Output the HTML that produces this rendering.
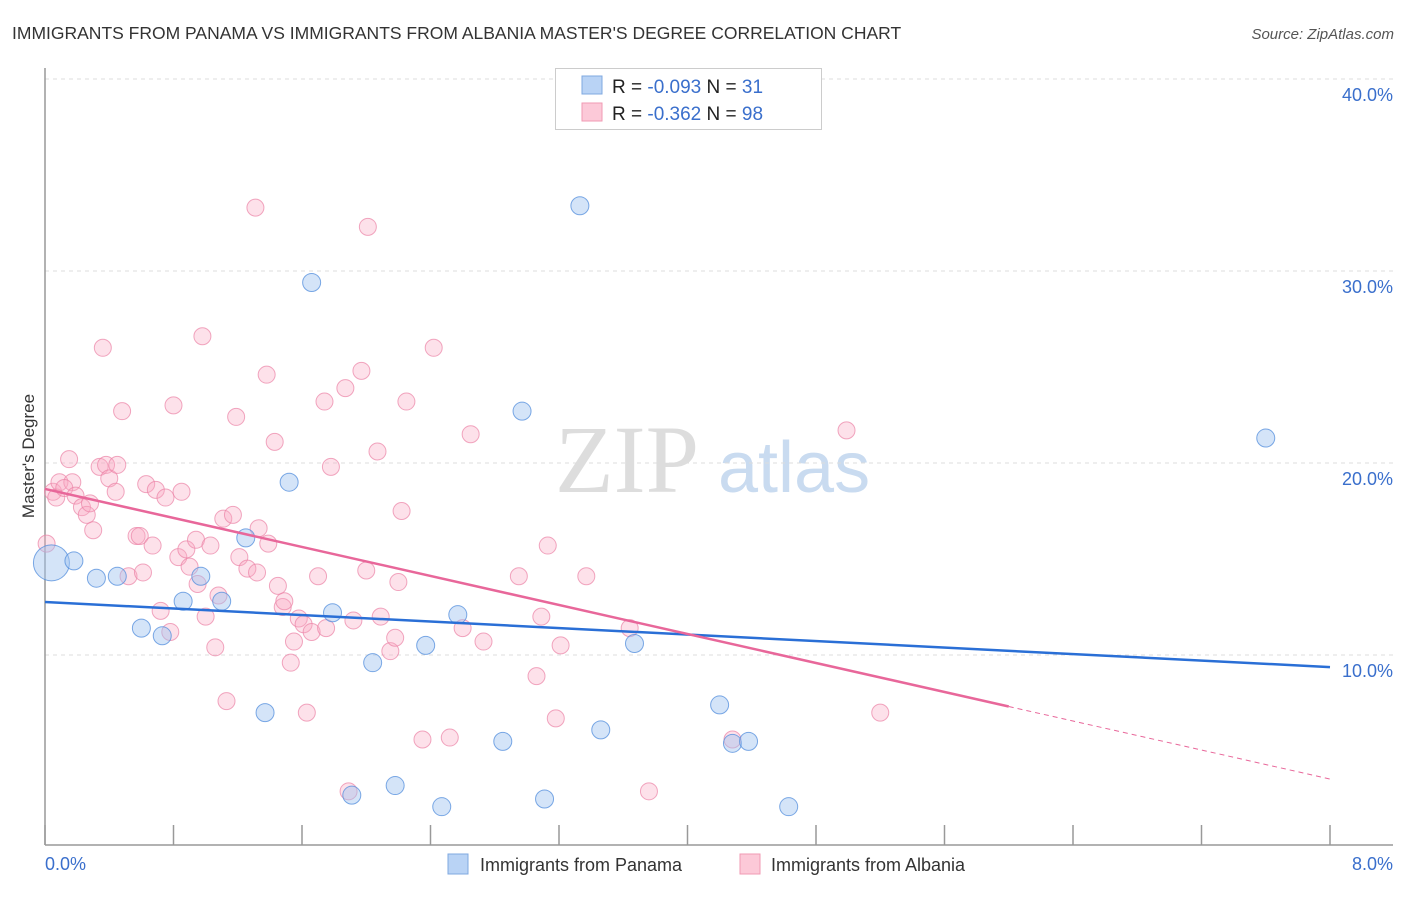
<!DOCTYPE html>
<html><head><meta charset="utf-8"><style>
body{margin:0;background:#fff;font-family:"Liberation Sans",sans-serif}
</style></head><body>
<svg width="1406" height="892" xmlns="http://www.w3.org/2000/svg">
<text x="12" y="39" font-size="17.5" fill="#333">IMMIGRANTS FROM PANAMA VS IMMIGRANTS FROM ALBANIA MASTER'S DEGREE CORRELATION CHART</text>
<text x="1394" y="39" font-size="15" fill="#555" text-anchor="end" font-style="italic">Source: ZipAtlas.com</text>
<text x="555" y="492" font-size="96" fill="#ddd" font-family="Liberation Serif,serif">ZIP</text>
<text x="718" y="492" font-size="72" fill="#c9dbf0">atlas</text>
<g id="grid"></g><g id="axes"></g><g id="pts"></g><g id="lines"></g>
<text transform="translate(34,456) rotate(-90)" font-size="17" fill="#333" text-anchor="middle">Master's Degree</text>
<text x="45" y="870" font-size="18" fill="#3a6fcc">0.0%</text>
<text x="1393" y="870" font-size="18" fill="#3a6fcc" text-anchor="end">8.0%</text>
<g>
<rect x="555.5" y="68.5" width="266" height="61" fill="#fff" stroke="#ccc"/>
<rect x="582" y="76" width="20" height="18" fill="#b9d3f5" stroke="#7fa8e0"/>
<rect x="582" y="103" width="20" height="18" fill="#fcc9d8" stroke="#f09ab3"/>
<text x="612" y="93" font-size="19" fill="#222">R = <tspan fill="#3a6fcc">-0.093</tspan>   N = <tspan fill="#3a6fcc"> 31</tspan></text>
<text x="612" y="120" font-size="19" fill="#222">R = <tspan fill="#3a6fcc"> -0.362</tspan>   N = <tspan fill="#3a6fcc">98</tspan></text>
</g>
<g>
<rect x="448" y="854" width="20" height="20" fill="#b9d3f5" stroke="#7fa8e0"/>
<text x="480" y="871" font-size="18" fill="#333">Immigrants from Panama</text>
<rect x="740" y="854" width="20" height="20" fill="#fcc9d8" stroke="#f09ab3"/>
<text x="771" y="871" font-size="18" fill="#333">Immigrants from Albania</text>
</g>
</svg>
<script>
const yTicks=[10,20,30,40];
const yTickLabels=["10.0%","20.0%","30.0%","40.0%"];
const xTicks=[0,0.8,1.6,2.4,3.2,4,4.8,5.6,6.4,7.2,8];
const panamaX=[0.04,0.18,0.32,0.45,0.60,0.73,0.86,0.97,1.10,1.25,1.37,1.52,1.66,1.79,1.91,2.04,2.18,2.37,2.47,2.57,2.85,2.97,3.11,3.33,3.46,3.67,4.20,4.28,4.38,4.63,7.60];
const panamaY=[14.8,14.9,14.0,14.1,11.4,11.0,12.8,14.1,12.8,16.1,7.0,19.0,29.4,12.2,2.7,9.6,3.2,10.5,2.1,12.1,5.5,22.7,2.5,33.4,6.1,10.6,7.4,5.4,5.5,2.1,21.3];
const albaniaX=[0.01,0.05,0.07,0.09,0.15,0.17,0.12,0.19,0.23,0.26,0.28,0.30,0.34,0.38,0.40,0.44,0.45,0.36,0.48,0.52,0.57,0.59,0.61,0.63,0.67,0.69,0.72,0.75,0.78,0.80,0.83,0.85,0.88,0.90,0.94,0.95,0.98,1.00,1.03,1.06,1.08,1.11,1.13,1.17,1.19,1.21,1.26,1.31,1.32,1.33,1.38,1.39,1.43,1.45,1.48,1.49,1.53,1.55,1.58,1.61,1.63,1.66,1.70,1.74,1.75,1.78,1.87,1.89,1.92,1.97,2.00,2.01,2.07,2.09,2.15,2.18,2.20,2.22,2.25,2.35,2.42,2.52,2.60,2.65,2.73,2.95,3.06,3.09,3.13,3.18,3.21,3.37,3.64,3.76,4.28,4.99,5.20];
const albaniaY=[15.8,18.5,18.2,19.0,20.2,19.0,18.7,18.3,17.7,17.3,17.9,16.5,19.8,19.9,19.2,18.5,19.9,26.0,22.7,14.1,16.2,16.2,14.3,18.9,15.7,18.6,12.3,18.2,11.2,23.0,15.1,18.5,15.5,14.6,16.0,13.7,26.6,12.0,15.7,10.4,13.1,17.1,7.6,17.3,22.4,15.1,14.5,33.3,14.3,16.6,24.6,15.8,21.1,13.6,12.5,12.8,9.6,10.7,11.9,11.6,7.0,11.2,14.1,23.2,11.4,19.8,23.9,2.9,11.8,24.8,14.4,32.3,20.6,12.0,10.2,10.9,13.8,17.5,23.2,5.6,26.0,5.7,11.4,21.5,10.7,14.1,8.9,12.0,15.7,6.7,10.5,14.1,11.4,2.9,5.6,21.7,7.0];
const panamaTrend=[12.76,9.37];
const albaniaTrend=[18.65,3.54];
const albaniaSolidEnd=6.0;
const NS="http://www.w3.org/2000/svg";
const sx=v=>45+v/8*1285, sy=v=>847-v*19.2;
function mk(t,a,p){const e=document.createElementNS(NS,t);for(const k in a)e.setAttribute(k,a[k]);p.appendChild(e);return e;}
const grid=document.getElementById('grid');
yTicks.forEach((t,i)=>{
 const l=mk('line',{x1:45,x2:1393,y1:sy(t),y2:sy(t),stroke:'#ddd','stroke-dasharray':'4,4'},grid);
 
 
 const tx=mk('text',{x:1393,y:sy(t)+22,'font-size':18,fill:'#3a6fcc','text-anchor':'end'},grid);
 tx.textContent=yTickLabels[i];
 
 
});
const ax=document.getElementById('axes');
let a1=mk('line',{x1:45,x2:45,y1:68,y2:845,stroke:'#999','stroke-width':1.5},ax);


let a2=mk('line',{x1:45,x2:1393,y1:845,y2:845,stroke:'#999','stroke-width':1.5},ax);


xTicks.forEach(t=>{const l=mk('line',{x1:sx(t),x2:sx(t),y1:825,y2:845,stroke:'#999','stroke-width':1.5},ax);
 
 });
const pts=document.getElementById('pts');
albaniaX.forEach((x,i)=>{const c=mk('circle',{cx:sx(x),cy:sy(albaniaY[i]),r:8.5,fill:'rgba(248,170,195,0.35)',stroke:'rgba(235,130,165,0.7)'},pts);
 
 });
panamaX.forEach((x,i)=>{const c=mk('circle',{cx:sx(x),cy:sy(panamaY[i]),r:i==0?18:9,fill:'rgba(160,195,240,0.45)',stroke:'rgba(80,140,220,0.75)'},pts);
 
 });
const ln=document.getElementById('lines');
let b=mk('line',{x1:sx(0),y1:sy(panamaTrend[0]),x2:sx(8),y2:sy(panamaTrend[1]),stroke:'#2a6fd6','stroke-width':2.5},ln);


const pa=v=>albaniaTrend[0]+(albaniaTrend[1]-albaniaTrend[0])*v/8;
let p=mk('line',{x1:sx(0),y1:sy(pa(0)),x2:sx(albaniaSolidEnd),y2:sy(pa(albaniaSolidEnd)),stroke:'#e8679a','stroke-width':2.5},ln);


let pd=mk('line',{x1:sx(albaniaSolidEnd),y1:sy(pa(albaniaSolidEnd)),x2:sx(8),y2:sy(pa(8)),stroke:'#e8679a','stroke-width':1,'stroke-dasharray':'5,4'},ln);


</script>
</body></html>
